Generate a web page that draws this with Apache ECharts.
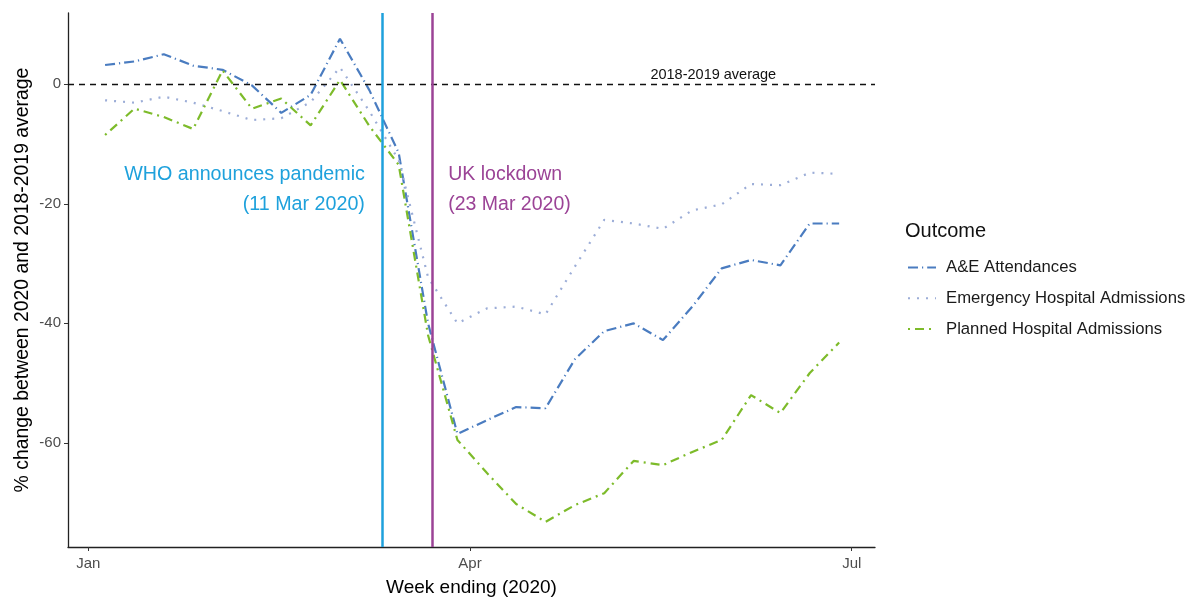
<!DOCTYPE html>
<html>
<head>
<meta charset="utf-8">
<script src="https://cdn.jsdelivr.net/npm/echarts@6/dist/echarts.min.js"></script>
<style>
  html, body { margin: 0; padding: 0; background: #fff; }
  #main { width: 1194px; height: 599px; }
</style>
</head>
<body>
<div id="main"></div>
<script>
// week ending dates (2020)
const weeks = ['2020-01-05', '2020-01-12', '2020-01-19', '2020-01-26', '2020-02-02', '2020-02-09',
  '2020-02-16', '2020-02-23', '2020-03-01', '2020-03-08', '2020-03-15', '2020-03-22', '2020-03-29',
  '2020-04-05', '2020-04-12', '2020-04-19', '2020-04-26', '2020-05-03', '2020-05-10', '2020-05-17',
  '2020-05-24', '2020-05-31', '2020-06-07', '2020-06-14', '2020-06-21', '2020-06-28'];

// % change vs 2018-2019 average
const aeAttendances = [3.2, 3.8, 5.0, 3.1, 2.4, -0.2, -4.8, -1.8, 7.6, -1.0, -11.5, -40, -58.5,
  -56.2, -54, -54.2, -46, -41.3, -40, -42.8, -37.2, -30.8, -29.4, -30.3, -23.3, -23.3];
const emergencyAdmissions = [-2.7, -3.1, -2.1, -3.1, -4.5, -6.0, -5.7, -3.0, 2.8, -4.5, -12.7, -32.3, -40,
  -37.5, -37.2, -38.5, -30.5, -22.7, -23.3, -24.2, -21.1, -20.1, -16.7, -16.9, -14.8, -15];
const plannedAdmissions = [-8.5, -4.1, -5.5, -7.5, 2.3, -4.1, -2.4, -6.9, 0.7, -7, -13.5, -42, -59.5,
  -65, -70.2, -73.2, -70.4, -68.4, -63, -63.7, -61.5, -59.5, -52, -55, -48.3, -43.2];

const outcomes = ['A&E Attendances', 'Emergency Hospital Admissions', 'Planned Hospital Admissions'];

const xTicks = ['2020-01-01', '2020-04-01', '2020-07-01'];
const xTickLabels = ['Jan', 'Apr', 'Jul'];
const yTicks = [0, -20, -40, -60];

const whoDate = '2020-03-11';
const lockdownDate = '2020-03-23';

const font = 'Liberation Sans, Arial, sans-serif';
const whoColor = '#1ea1dc';
const lockColor = '#9b4396';

// x axis in days since 1 Jan 2020
const day = d => Math.round((Date.UTC(+d.slice(0, 4), +d.slice(5, 7) - 1, +d.slice(8, 10)) - Date.UTC(2020, 0, 1)) / 864e5);
const toPairs = vals => weeks.map((w, i) => [day(w), vals[i]]);
const xTickDays = xTicks.map(day);

const myChart = echarts.init(document.getElementById('main'));

const option = {
  animation: false,
  backgroundColor: '#fff',
  title: {
    text: 'Outcome',
    left: 900,
    top: 216,
    textStyle: { fontFamily: font, fontSize: 20, fontWeight: 'normal', color: '#111' }
  },
  legend: {
    data: outcomes,
    orient: 'vertical',
    left: 902,
    top: 254,
    itemWidth: 28,
    itemHeight: 14,
    itemGap: 13.8,
    itemStyle: { opacity: 0 },
    textStyle: { fontFamily: font, fontSize: 16.7, lineHeight: 14, color: '#1a1a1a', padding: [0, 0, 0, 5] }
  },
  grid: { left: 68, right: 319, top: 13, bottom: 52, containLabel: false, outerBoundsMode: 'none' },
  xAxis: {
    type: 'value',
    min: -4.84,
    max: 187.55,
    name: 'Week ending (2020)',
    nameLocation: 'middle',
    nameGap: 31,
    nameTextStyle: { fontFamily: font, fontSize: 19, color: '#000' },
    axisLine: { onZero: false, lineStyle: { color: '#222', width: 1.3 } },
    axisTick: { show: true, length: 4, lineStyle: { color: '#333' }, customValues: xTickDays },
    axisLabel: {
      fontFamily: font, fontSize: 15, color: '#4d4d4d', margin: 9,
      customValues: xTickDays,
      formatter: v => xTickLabels[xTickDays.indexOf(v)] || ''
    },
    splitLine: { show: false }
  },
  yAxis: {
    type: 'value',
    min: -77.4,
    max: 11.9,
    name: '% change between 2020 and 2018-2019 average',
    nameLocation: 'middle',
    nameGap: 36,
    nameMoveOverlap: false,
    nameTextStyle: { fontFamily: font, fontSize: 19.4, color: '#000' },
    axisLine: { show: true, onZero: false, lineStyle: { color: '#222', width: 1.3 } },
    axisTick: { show: true, length: 4, lineStyle: { color: '#333' }, customValues: yTicks },
    axisLabel: { fontFamily: font, fontSize: 15, color: '#4d4d4d', margin: 7, customValues: yTicks },
    splitLine: { show: false }
  },
  series: [
    {
      name: outcomes[0],
      type: 'line',
      data: toPairs(aeAttendances),
      symbol: 'none',
      z: 3,
      lineStyle: { color: '#4a7cc0', width: 2.2, type: [10, 4, 1.2, 4] },
      itemStyle: { color: '#4a7cc0' }
    },
    {
      name: outcomes[1],
      type: 'line',
      data: toPairs(emergencyAdmissions),
      symbol: 'none',
      z: 3,
      lineStyle: { color: '#9cadd7', width: 2.2, type: [2, 7] },
      itemStyle: { color: '#9cadd7' }
    },
    {
      name: outcomes[2],
      type: 'line',
      data: toPairs(plannedAdmissions),
      symbol: 'none',
      z: 3,
      lineStyle: { color: '#7dbb2a', width: 2.2, type: [2, 5, 9, 5] },
      itemStyle: { color: '#7dbb2a' }
    },
    {
      // reference lines and annotations
      name: 'annotations',
      type: 'line',
      data: [],
      z: 2,
      markLine: {
        silent: true,
        symbol: 'none',
        animation: false,
        label: { show: false },
        data: [
          { yAxis: 0, lineStyle: { color: '#111', width: 1.3, type: [6, 5] } },
          { xAxis: day(whoDate), lineStyle: { color: whoColor, width: 2.5, type: 'solid' } },
          { xAxis: day(lockdownDate), lineStyle: { color: lockColor, width: 2.5, type: 'solid' } }
        ]
      },
      markPoint: {
        silent: true,
        symbol: 'circle',
        symbolSize: 0,
        animation: false,
        data: [
          {
            coord: [day('2020-05-29'), 0],
            label: {
              show: true, position: 'top', distance: 2,
              formatter: '2018-2019 average',
              fontFamily: font, fontSize: 14.5, color: '#111'
            }
          },
          {
            coord: [day(whoDate), -17.7],
            label: {
              show: true, position: 'left', distance: 17, align: 'right',
              formatter: 'WHO announces pandemic\n(11 Mar 2020)',
              fontFamily: font, fontSize: 19.7, lineHeight: 30, color: whoColor
            }
          },
          {
            coord: [day(lockdownDate), -17.7],
            label: {
              show: true, position: 'right', distance: 16, align: 'left',
              formatter: 'UK lockdown\n(23 Mar 2020)',
              fontFamily: font, fontSize: 19.5, lineHeight: 30, color: lockColor
            }
          }
        ]
      }
    }
  ]
};

option && myChart.setOption(option);
</script>
</body>
</html>
